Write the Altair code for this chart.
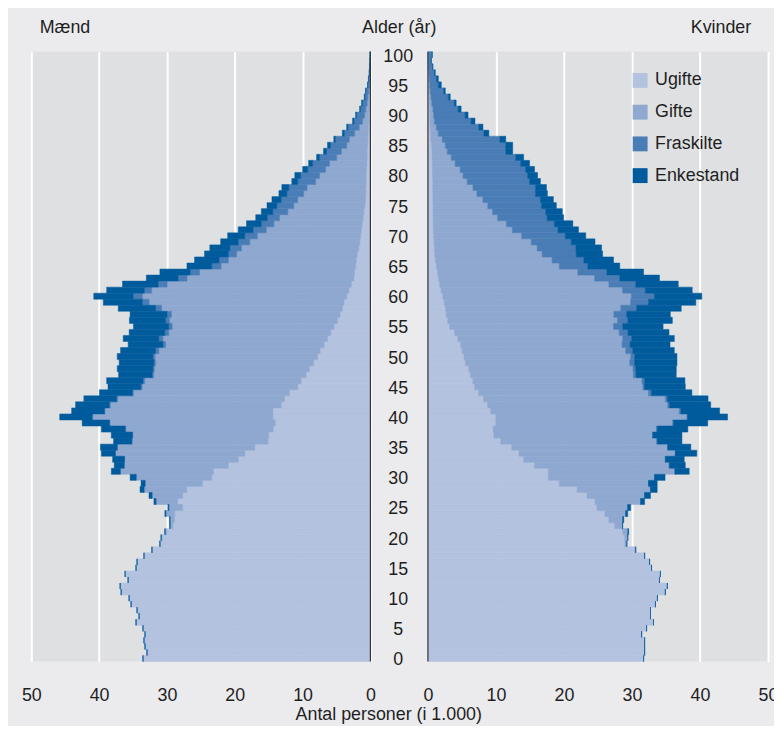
import altair as alt
import pandas as pd

# ---------------- data (thousands of persons), index = age 0..100 ----------------
ages = list(range(101))

men_ugifte = [
    33.53, 32.94, 33.23, 33.38, 33.23, 33.53, 34.55, 34.11, 34.40, 35.28,
    35.57, 36.74, 36.89, 35.72, 36.16, 34.55, 34.40, 33.38, 32.21, 31.00,
    30.70, 30.02, 29.14, 28.90, 28.85, 27.68, 28.41, 27.68, 27.09, 24.76,
    23.39, 23.15, 20.95, 19.49, 18.52, 17.06, 15.11, 15.01, 14.33, 14.03,
    14.38, 14.38, 13.16, 12.67, 11.94, 10.72, 10.23, 9.50, 9.01, 8.38,
    7.80, 7.41, 6.82, 6.33, 5.85, 5.36, 4.87, 4.48, 4.14, 3.90,
    3.51, 3.17, 2.83, 2.44, 2.34, 2.19, 2.09, 1.95, 1.71, 1.56,
    1.46, 1.32, 1.22, 1.07, 0.97, 0.82, 0.73, 0.68, 0.68, 0.63,
    0.63, 0.58, 0.53, 0.48, 0.48, 0.43, 0.38, 0.34, 0.29, 0.24,
    0.24, 0.19, 0.14, 0.14, 0.09, 0.09, 0.05, 0.04, 0.03, 0.02,
    0.01,
]
men_gifte = [
    0.00, 0.00, 0.00, 0.00, 0.00, 0.00, 0.00, 0.00, 0.00, 0.00,
    0.00, 0.00, 0.00, 0.00, 0.00, 0.00, 0.00, 0.00, 0.00, 0.04,
    0.15, 0.26, 0.41, 0.65, 1.32, 2.05, 3.22, 4.53, 6.29, 8.47,
    11.16, 13.74, 15.36, 16.77, 19.10, 20.27, 20.07, 20.03, 21.73, 24.37,
    26.56, 24.75, 25.19, 24.61, 23.00, 22.95, 23.05, 22.47, 22.86, 23.30,
    23.97, 23.78, 23.39, 24.27, 23.88, 23.88, 24.76, 24.86, 26.66, 28.75,
    30.11, 29.09, 27.14, 24.61, 22.85, 19.84, 18.86, 17.79, 17.30, 16.23,
    15.21, 14.03, 13.01, 12.33, 11.21, 10.48, 9.99, 9.16, 8.67, 7.45,
    6.87, 6.04, 5.51, 4.49, 3.80, 3.07, 2.73, 1.99, 1.36, 0.92,
    0.63, 0.49, 0.34, 0.24, 0.15, 0.05, 0.04, 0.03, 0.02, 0.01,
    0.01,
]
men_fraskilte = [
    0.00, 0.00, 0.00, 0.00, 0.00, 0.00, 0.00, 0.00, 0.00, 0.00,
    0.00, 0.00, 0.00, 0.00, 0.00, 0.00, 0.00, 0.00, 0.00, 0.00,
    0.00, 0.00, 0.00, 0.00, 0.00, 0.00, 0.00, 0.00, 0.00, 0.00,
    0.00, 0.00, 0.00, 0.00, 0.00, 0.00, 0.00, 0.05, 0.10, 0.10,
    0.09, 0.10, 0.15, 0.15, 0.15, 0.20, 0.25, 0.19, 0.20, 0.24,
    0.30, 0.49, 0.39, 0.59, 0.58, 0.49, 0.58, 0.63, 0.88, 0.97,
    1.37, 1.07, 1.32, 1.31, 1.37, 1.36, 1.37, 1.21, 1.70, 1.70,
    1.85, 1.95, 1.85, 1.80, 2.20, 2.49, 2.43, 2.48, 2.68, 2.64,
    2.78, 2.63, 2.48, 2.53, 2.20, 2.39, 2.05, 1.51, 1.66, 1.27,
    1.17, 0.78, 0.68, 0.44, 0.44, 0.24, 0.17, 0.09, 0.07, 0.05,
    0.03,
]
men_enkestand = [
    0.00, 0.00, 0.00, 0.00, 0.00, 0.00, 0.00, 0.00, 0.00, 0.00,
    0.00, 0.00, 0.00, 0.00, 0.00, 0.00, 0.00, 0.00, 0.00, 0.00,
    0.00, 0.03, 0.03, 0.05, 0.14, 0.14, 0.29, 0.44, 0.59, 0.59,
    0.88, 1.31, 1.46, 1.75, 2.05, 2.48, 2.69, 3.12, 3.51, 4.00,
    4.78, 4.82, 4.97, 4.82, 4.87, 4.82, 5.36, 4.97, 5.26, 5.12,
    5.26, 5.16, 5.12, 5.26, 5.26, 5.21, 5.32, 5.46, 5.50, 5.76,
    5.80, 5.56, 5.26, 4.68, 4.48, 3.66, 3.61, 3.51, 2.97, 2.59,
    2.53, 2.19, 2.19, 1.71, 1.70, 1.46, 1.37, 1.17, 1.03, 0.87,
    0.87, 0.74, 0.59, 0.44, 0.44, 0.44, 0.24, 0.30, 0.19, 0.20,
    0.15, 0.14, 0.15, 0.10, 0.05, 0.05, 0.04, 0.03, 0.02, 0.01,
    0.01,
]

women_ugifte = [
    31.70, 31.85, 31.85, 31.85, 31.41, 32.14, 33.16, 32.72, 32.72, 33.45,
    33.74, 34.91, 35.20, 34.04, 34.18, 32.87, 32.58, 31.85, 30.40, 28.93,
    28.93, 28.64, 27.48, 26.60, 26.02, 24.85, 24.56, 23.40, 21.94, 19.31,
    17.71, 17.71, 15.67, 14.07, 13.39, 12.32, 10.71, 9.70, 9.59, 9.98,
    9.98, 9.25, 8.77, 8.18, 7.46, 6.87, 6.60, 6.24, 6.00, 5.51,
    5.30, 5.03, 4.80, 4.39, 3.91, 3.18, 2.90, 2.69, 2.60, 2.40,
    2.21, 1.95, 1.72, 1.55, 1.40, 1.24, 1.10, 1.00, 0.95, 0.90,
    0.85, 0.80, 0.78, 0.76, 0.75, 0.75, 0.74, 0.73, 0.72, 0.72,
    0.70, 0.68, 0.65, 0.62, 0.60, 0.55, 0.45, 0.40, 0.35, 0.30,
    0.28, 0.25, 0.20, 0.18, 0.15, 0.12, 0.10, 0.07, 0.05, 0.03,
    0.02,
]
women_gifte = [
    0.00, 0.00, 0.00, 0.00, 0.00, 0.00, 0.00, 0.00, 0.00, 0.00,
    0.00, 0.00, 0.00, 0.00, 0.00, 0.00, 0.00, 0.00, 0.14, 0.30,
    0.44, 0.76, 1.12, 2.04, 3.06, 4.52, 6.71, 8.45, 10.78, 13.12,
    15.60, 18.61, 19.82, 20.84, 22.98, 22.93, 22.94, 23.31, 24.01, 26.00,
    28.09, 27.70, 26.48, 26.73, 24.97, 24.73, 24.86, 23.96, 24.15, 24.15,
    24.51, 24.05, 23.74, 24.25, 24.20, 24.10, 24.96, 24.64, 25.75, 27.40,
    27.69, 26.65, 24.88, 22.95, 20.64, 18.08, 17.15, 15.79, 15.11, 14.29,
    12.93, 11.62, 10.76, 9.47, 8.75, 8.05, 7.35, 6.48, 5.91, 5.04,
    4.47, 4.06, 3.35, 2.80, 2.24, 2.00, 1.66, 1.13, 0.89, 0.65,
    0.57, 0.50, 0.36, 0.28, 0.20, 0.16, 0.10, 0.08, 0.05, 0.04,
    0.03,
]
women_fraskilte = [
    0.00, 0.00, 0.00, 0.00, 0.00, 0.00, 0.00, 0.00, 0.00, 0.00,
    0.00, 0.00, 0.00, 0.00, 0.00, 0.00, 0.00, 0.00, 0.00, 0.00,
    0.00, 0.00, 0.00, 0.00, 0.00, 0.00, 0.00, 0.00, 0.00, 0.00,
    0.00, 0.00, 0.00, 0.00, 0.00, 0.00, 0.05, 0.05, 0.10, 0.10,
    0.09, 0.24, 0.24, 0.29, 0.44, 0.25, 0.39, 0.40, 0.39, 0.73,
    0.58, 1.02, 1.17, 1.31, 1.31, 1.36, 1.54, 1.89, 2.33, 2.63,
    3.40, 3.35, 3.94, 3.70, 4.27, 4.18, 4.66, 5.00, 5.69, 5.87,
    6.41, 6.70, 7.05, 7.29, 7.80, 7.90, 8.45, 8.60, 9.18, 9.18,
    9.48, 9.62, 9.63, 9.48, 8.60, 8.89, 8.46, 6.70, 6.22, 5.39,
    4.61, 3.69, 3.30, 2.53, 1.96, 1.25, 1.04, 0.80, 0.58, 0.39,
    0.53,
]
women_enkestand = [
    0.00, 0.00, 0.00, 0.00, 0.00, 0.00, 0.00, 0.00, 0.00, 0.00,
    0.00, 0.00, 0.00, 0.00, 0.00, 0.00, 0.00, 0.00, 0.00, 0.00,
    0.00, 0.10, 0.04, 0.15, 0.29, 0.44, 0.58, 0.87, 0.98, 1.27,
    1.55, 2.09, 2.34, 2.77, 3.16, 3.40, 3.64, 4.28, 4.51, 5.05,
    5.89, 5.69, 6.08, 5.98, 5.93, 5.98, 5.93, 5.90, 5.97, 6.22,
    6.22, 6.12, 5.88, 6.27, 6.02, 5.93, 6.53, 6.42, 6.56, 6.95,
    6.96, 6.90, 6.26, 5.84, 5.39, 4.70, 4.37, 3.89, 3.78, 3.50,
    3.01, 3.01, 2.71, 2.43, 2.45, 2.18, 1.90, 1.75, 1.61, 1.60,
    1.46, 1.31, 1.31, 1.17, 1.02, 1.02, 0.87, 0.73, 0.63, 0.58,
    0.44, 0.44, 0.29, 0.29, 0.24, 0.44, 0.29, 0.14, 0.07, 0.05,
    0.07,
]

status_labels = ["Ugifte", "Gifte", "Fraskilte", "Enkestand"]
status_colors = ["#b3c2df", "#8ea8d0", "#4a7db6", "#005b9d"]
x_ticks = [0, 10, 20, 30, 40, 50]
age_ticks = list(range(0, 101, 5))
panel_titles = {"men": "Mænd", "age": "Alder (år)", "women": "Kvinder"}
x_title = "Antal personer (i 1.000)"

# ---------------- tables ----------------
def long_table(series):
    rows = []
    for k, (name, vals) in enumerate(zip(status_labels, series)):
        assert len(vals) == len(ages)
        for a, v in zip(ages, vals):
            rows.append({"age": a, "status": name, "order": k, "value": v})
    return pd.DataFrame(rows)

men_df = long_table([men_ugifte, men_gifte, men_fraskilte, men_enkestand])
women_df = long_table([women_ugifte, women_gifte, women_fraskilte, women_enkestand])
age_df = pd.DataFrame({"age": age_ticks})
zero_df = pd.DataFrame({"x": [0]})

# ---------------- styling ----------------
FONT = "Liberation Sans"
TXT = "#1e1e1e"
PLOT_BG = "#dfe0e2"
OUTER_BG = "#ebebed"
W_L, W_M, W_R, H = 342, 58, 343, 615
TITLE_Y = -24

age_domain = list(range(100, -1, -1))
y_enc = alt.Y("age:O", scale=alt.Scale(domain=age_domain, paddingInner=0, paddingOuter=0), axis=None)
color_scale = alt.Scale(domain=status_labels, range=status_colors)


def x_axis(**kw):
    return alt.Axis(values=x_ticks, grid=True, gridColor="#ffffff", gridWidth=2,
                    ticks=False, domain=False, labelFontSize=18, labelFont=FONT,
                    labelColor=TXT, labelPadding=25, labelFlush=False,
                    labelOverlap=False, **kw)


def heading(text, x, align):
    return alt.Chart(pd.DataFrame({"t": [text]})).mark_text(
        fontSize=18, font=FONT, color=TXT, align=align, baseline="middle"
    ).encode(x=alt.value(x), y=alt.value(TITLE_Y), text="t:N")


def side(df, reverse, legend, title_text, tx, talign, axis_kw):
    bars = alt.Chart(df).mark_bar(strokeWidth=0.5).encode(
        x=alt.X("value:Q", stack="zero",
                scale=alt.Scale(domain=[0, 50], reverse=reverse, nice=False),
                axis=x_axis(**axis_kw)),
        y=y_enc,
        color=alt.Color("status:N", scale=color_scale, legend=legend),
        stroke=alt.Stroke("status:N", scale=color_scale, legend=None),
        order=alt.Order("order:Q", sort="ascending"),
    )
    axis_line = alt.Chart(zero_df).mark_rule(color="#333333", strokeWidth=1.2).encode(
        x=alt.X("x:Q"))
    return alt.layer(bars, axis_line, heading(title_text, tx, talign)).properties(
        width=W_L if reverse else W_R, height=H,
        view=alt.ViewBackground(fill=PLOT_BG, stroke=None),
    )


left = side(men_df, True, None, panel_titles["men"], 8.5, "left",
            dict(title=x_title, titleX=360, titleY=53,
                 titleAlign="center", titleBaseline="middle", titleFontSize=18,
                 titleFontWeight="normal", titleFont=FONT, titleColor=TXT))

legend = alt.Legend(orient="none", legendX=205, legendY=20, title=None,
                    symbolType="square", symbolSize=225, symbolStrokeWidth=0,
                    symbolOpacity=1, labelFontSize=18, labelFont=FONT,
                    labelColor=TXT, rowPadding=14, labelOffset=6, padding=0)
right = side(women_df, False, legend, panel_titles["women"], 326, "right", dict(title=None))

age_labels = alt.Chart(age_df).mark_text(fontSize=18, font=FONT, color=TXT,
                                          baseline="middle", align="center", dy=2).encode(
    y=y_enc,
    x=alt.value(28),
    text=alt.Text("age:N"),
)
middle = alt.layer(age_labels, heading(panel_titles["age"], 29, "center")).properties(
    width=W_M, height=H,
    view=alt.ViewBackground(fill=None, stroke=None),
)

chart = alt.hconcat(left, middle, right, spacing=0, bounds="flush").resolve_scale(
    color="independent", stroke="independent", x="independent", y="independent"
).properties(
    background=OUTER_BG,
    padding={"left": 12.5, "top": 8, "right": -5, "bottom": 0},
)

chart.save("out.html", embed_options={"renderer": "svg", "actions": False})
